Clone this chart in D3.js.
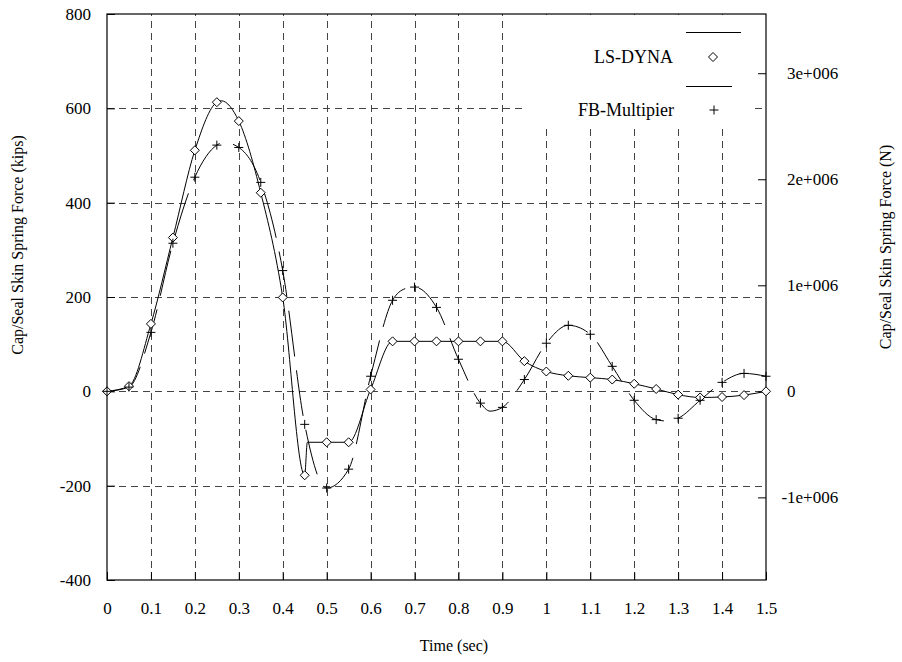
<!DOCTYPE html>
<html>
<head>
<meta charset="utf-8">
<script src="https://cdn.jsdelivr.net/npm/d3@7"></script>
<style>
  body { margin: 0; background: #fff; }
  svg text { font-family: "Liberation Serif", "Times New Roman", serif; fill: #000; }
</style>
</head>
<body>
<svg id="chart" width="902" height="662"></svg>
<script>
// Sample times (s) at which both models are marked
const markerTime = [0, 0.05, 0.1, 0.15, 0.2, 0.25, 0.3, 0.35, 0.4, 0.45, 0.5, 0.55, 0.6, 0.65, 0.7, 0.75,
                    0.8, 0.85, 0.9, 0.95, 1.0, 1.05, 1.1, 1.15, 1.2, 1.25, 1.3, 1.35, 1.4, 1.45, 1.5];

// LS-DYNA spring force (kips)
const lsdynaForce = [0, 11, 143, 326, 511, 613, 573, 421, 199, -178, -108, -108, 4, 106, 106, 106,
                     106, 106, 106, 64, 42, 33, 29, 25, 16, 5, -7, -13, -12, -8, 0];
// extra line vertices between markers (peak and the jump after the trough)
const lsdynaExtraTime = [0.26, 0.456];
const lsdynaExtraForce = [616, -108];

// FB-Multipier spring force (kips)
const fbForce = [0, 9, 125, 314, 454, 522, 517, 443, 256, -70, -205, -165, 32, 193, 221, 178,
                 68, -25, -34, 25, 102, 140, 121, 53, -19, -60, -57, -19, 19, 38, 32];
const fbExtraTime = [0.265, 0.68, 0.872, 1.275];
const fbExtraForce = [528, 218, -42, -63];

const xTicks = [0, 0.1, 0.2, 0.3, 0.4, 0.5, 0.6, 0.7, 0.8, 0.9, 1.0, 1.1, 1.2, 1.3, 1.4, 1.5];
const yTicks = [-400, -200, 0, 200, 400, 600, 800];
const y2Ticks = [-1e6, 0, 1e6, 2e6, 3e6];
const kipToNewton = 4448.22;

const seriesNames = ["LS-DYNA", "FB-Multipier"];

const serif = '"Liberation Serif", "Times New Roman", serif';
const svg = d3.select("#chart");
const plotLeft = 107, plotRight = 766, plotTop = 14, plotBottom = 580;

const x = d3.scaleLinear().domain([0, 1.5]).range([plotLeft, plotRight]);
const y = d3.scaleLinear().domain([-400, 800]).range([plotBottom, plotTop]);
const y2 = d3.scaleLinear().domain([-400 * kipToNewton, 800 * kipToNewton]).range([plotBottom, plotTop]);

// grid
const grid = svg.append("g").attr("stroke", "#444").attr("stroke-width", 1).attr("stroke-dasharray", "7,5");
xTicks.filter(t => t > 0 && t < 1.5).forEach(t => {
  grid.append("line").attr("x1", Math.round(x(t)) + 0.5).attr("x2", Math.round(x(t)) + 0.5)
    .attr("y1", plotBottom).attr("y2", plotTop);
});
yTicks.filter(t => t > -400 && t < 800).forEach(t => {
  grid.append("line").attr("y1", Math.round(y(t)) + 0.5).attr("y2", Math.round(y(t)) + 0.5)
    .attr("x1", plotLeft).attr("x2", plotRight);
});

// opaque legend area
svg.append("rect").attr("x", 527).attr("y", plotTop + 1).attr("width", 225).attr("height", 111).attr("fill", "#fff");

// axes (plain ASCII hyphen for negative numbers)
const fmtKips = d => String(d);
const fmtN = d => d === 0 ? "0" : (d / 1e6) + "e+006";
const axisStyle = g => {
  g.attr("font-family", null).attr("font-size", null);
  g.select(".domain").remove();
  g.selectAll(".tick line").attr("stroke", "#000");
  g.selectAll("text").style("font-family", serif).style("font-size", "17px");
};
svg.append("g").attr("transform", `translate(0,${plotBottom})`)
  .call(d3.axisBottom(x).tickValues(xTicks).tickFormat(d => String(d)).tickSizeInner(-8).tickPadding(22))
  .call(axisStyle);
svg.append("g").attr("transform", `translate(${plotLeft},0)`)
  .call(d3.axisLeft(y).tickValues(yTicks).tickFormat(fmtKips).tickSizeInner(-8).tickPadding(16))
  .call(axisStyle);
svg.append("g").attr("transform", `translate(${plotRight},0)`)
  .call(d3.axisRight(y2).tickValues(y2Ticks).tickFormat(fmtN).tickSizeInner(-8).tickPadding(21))
  .call(axisStyle)
  .call(g => g.selectAll("text").attr("dx", d => d < 0 ? "-0.33em" : 0));

svg.append("rect").attr("x", plotLeft).attr("y", plotTop).attr("width", plotRight - plotLeft)
  .attr("height", plotBottom - plotTop)
  .attr("fill", "none").attr("stroke", "#000").attr("stroke-width", 1.2);

// axis titles
svg.append("text").attr("x", 454).attr("y", 651).attr("text-anchor", "middle")
  .style("font-size", "16px").text("Time (sec)");
svg.append("text").attr("transform", "translate(23,245) rotate(-90)").attr("text-anchor", "middle")
  .style("font-size", "16px").text("Cap/Seal Skin Spring Force (kips)");
svg.append("text").attr("transform", "translate(891,247) rotate(-90)").attr("text-anchor", "middle")
  .style("font-size", "16px").text("Cap/Seal Skin Spring Force (N)");

// curves
function linePoints(ts, vs, extraT, extraV) {
  const pts = ts.map((t, i) => [t, vs[i]]).concat(extraT.map((t, i) => [t, extraV[i]]));
  return pts.sort((a, b) => a[0] - b[0]);
}
const line = d3.line().x(d => x(d[0])).y(d => y(d[1])).curve(d3.curveMonotoneX);

svg.append("path").datum(linePoints(markerTime, fbForce, fbExtraTime, fbExtraForce))
  .attr("d", line).attr("fill", "none").attr("stroke", "#000").attr("stroke-width", 1)
  .attr("stroke-dasharray", "46,14");
svg.append("path").datum(linePoints(markerTime, lsdynaForce, lsdynaExtraTime, lsdynaExtraForce))
  .attr("d", line).attr("fill", "none").attr("stroke", "#000").attr("stroke-width", 1);

// markers
const diamond = (cx, cy, r) => `M${cx},${cy - r}L${cx + r},${cy}L${cx},${cy + r}L${cx - r},${cy}Z`;
const plus = (cx, cy, r) => `M${cx - r},${cy}H${cx + r}M${cx},${cy - r}V${cy + r}`;

svg.append("g").selectAll("path").data(markerTime).join("path")
  .attr("d", (t, i) => diamond(x(t), y(lsdynaForce[i]), 4.5))
  .attr("fill", "#fff").attr("stroke", "#000").attr("stroke-width", 1);
svg.append("g").selectAll("path").data(markerTime).join("path")
  .attr("d", (t, i) => plus(x(t), y(fbForce[i]), 4.5))
  .attr("fill", "none").attr("stroke", "#000").attr("stroke-width", 1);

// legend
const lg = svg.append("g");
lg.append("line").attr("x1", 686).attr("x2", 741).attr("y1", 32.5).attr("y2", 32.5).attr("stroke", "#000");
lg.append("text").attr("x", 673).attr("y", 57).attr("dy", "0.35em").attr("text-anchor", "end")
  .style("font-size", "18px").text(seriesNames[0]);
lg.append("path").attr("d", diamond(713, 57, 4.5)).attr("fill", "#fff").attr("stroke", "#000");
lg.append("line").attr("x1", 686).attr("x2", 741).attr("y1", 86.5).attr("y2", 86.5).attr("stroke", "#000")
  .attr("stroke-dasharray", "46,14");
lg.append("text").attr("x", 674).attr("y", 110).attr("dy", "0.35em").attr("text-anchor", "end")
  .style("font-size", "18px").text(seriesNames[1]);
lg.append("path").attr("d", plus(714, 110, 4.5)).attr("fill", "none").attr("stroke", "#000");
</script>
</body>
</html>
